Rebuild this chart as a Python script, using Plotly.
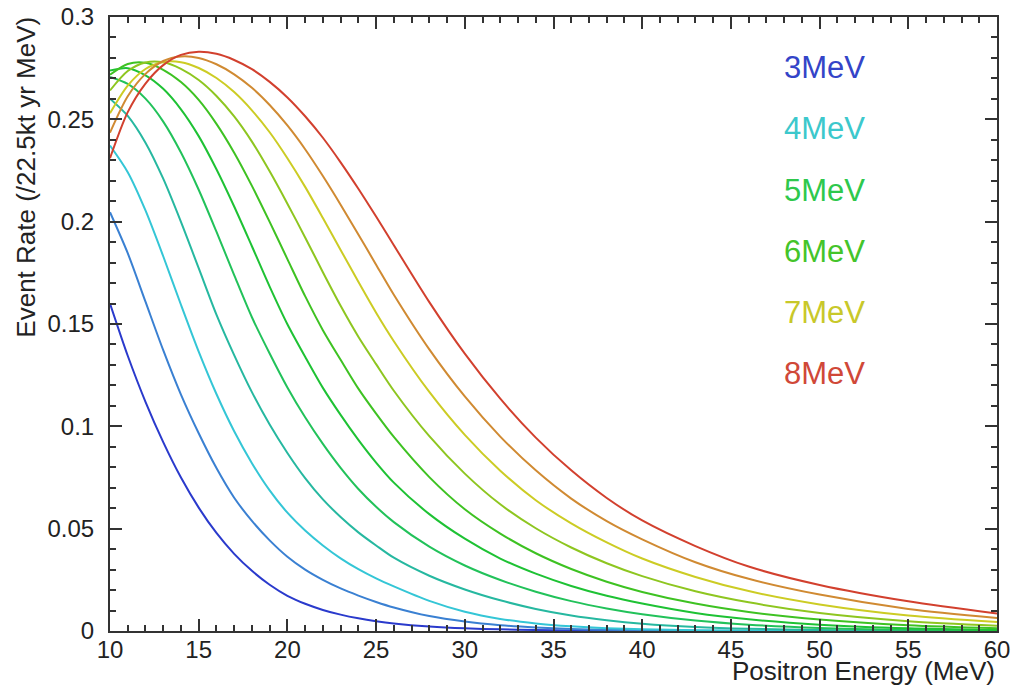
import plotly.graph_objects as go

# Positron energy grid (MeV)
positron_energy = [10, 11, 12, 13, 14, 15, 16, 17, 18, 19, 20, 21, 22, 23, 24, 25, 26,
                   28, 30, 32, 34, 36, 38, 40, 43, 46, 50, 55, 60]

# Event rate (/22.5kt yr MeV) for each neutrino temperature
rate_3p0 = [0.160, 0.1345, 0.112, 0.0923, 0.0750, 0.0603, 0.0479, 0.0377, 0.0294, 0.0226, 0.0172, 0.0133, 0.0103, 0.0080, 0.0062, 0.0048, 0.0037,
            0.0022, 0.0013, 0.0008, 0.00048, 0.0003, 0.00017, 0.0001, 0.00005, 0.00002, 0.00001, 0.0, 0.0]
rate_3p5 = [0.2046, 0.1846, 0.1609, 0.1372, 0.1155, 0.0966, 0.0796, 0.0651, 0.0538, 0.0443, 0.0363, 0.0300, 0.0250, 0.0208, 0.0173, 0.0142, 0.0115,
            0.0073, 0.0046, 0.0028, 0.0017, 0.0010, 0.0006, 0.00035, 0.00015, 0.00006, 0.00002, 0.00001, 0.0]
rate_4p0 = [0.2372, 0.2242, 0.2055, 0.1831, 0.1594, 0.1365, 0.1158, 0.0976, 0.0820, 0.0687, 0.0578, 0.0491, 0.0418, 0.0355, 0.0302, 0.0257, 0.0218,
            0.0147, 0.0094, 0.0059, 0.0037, 0.0023, 0.0014, 0.0009, 0.0004, 0.0002, 0.0001, 0.00003, 0.00001]
rate_4p5 = [0.2601, 0.2517, 0.2386, 0.2210, 0.1999, 0.1773, 0.1546, 0.1348, 0.1167, 0.1009, 0.0870, 0.0747, 0.0643, 0.0557, 0.0482, 0.0418, 0.0358,
            0.0270, 0.0203, 0.0150, 0.0108, 0.0076, 0.0053, 0.0036, 0.0020, 0.0011, 0.0005, 0.00018, 0.00006]
rate_5p0 = [0.2707, 0.2673, 0.2601, 0.2489, 0.2338, 0.2156, 0.1951, 0.1739, 0.1533, 0.1356, 0.1190, 0.1044, 0.0914, 0.0797, 0.0694, 0.0607, 0.0532,
            0.0412, 0.0320, 0.0249, 0.0192, 0.0146, 0.0110, 0.0082, 0.0051, 0.0031, 0.0015, 0.0006, 0.0002]
rate_5p5 = [0.2738, 0.2750, 0.2715, 0.2649, 0.2549, 0.2418, 0.2256, 0.2074, 0.1880, 0.1683, 0.1499, 0.1340, 0.1188, 0.1056, 0.0934, 0.0823, 0.0725,
            0.0571, 0.0451, 0.0354, 0.0280, 0.0220, 0.0172, 0.0134, 0.0088, 0.0057, 0.0031, 0.0013, 0.0005]
rate_6p0 = [0.2718, 0.2770, 0.2776, 0.2742, 0.2682, 0.2595, 0.2478, 0.2337, 0.2175, 0.1999, 0.1817, 0.1636, 0.1470, 0.1325, 0.1184, 0.1062, 0.0948,
            0.0752, 0.0595, 0.0476, 0.0380, 0.0303, 0.0241, 0.0191, 0.0134, 0.0093, 0.0056, 0.0028, 0.0013]
rate_6p5 = [0.2641, 0.2736, 0.2778, 0.2779, 0.2747, 0.2692, 0.2614, 0.2514, 0.2391, 0.2246, 0.2088, 0.1923, 0.1753, 0.1589, 0.1438, 0.1304, 0.1174,
            0.0952, 0.0769, 0.0619, 0.0502, 0.0408, 0.0331, 0.0268, 0.0194, 0.0140, 0.0088, 0.0048, 0.0026]
rate_7p0 = [0.2530, 0.2665, 0.2746, 0.2780, 0.2779, 0.2751, 0.2702, 0.2633, 0.2544, 0.2437, 0.2310, 0.2170, 0.2018, 0.1862, 0.1706, 0.1555, 0.1416,
            0.1168, 0.0958, 0.0783, 0.0639, 0.0526, 0.0433, 0.0354, 0.0264, 0.0195, 0.0130, 0.0076, 0.0044]
rate_7p5 = [0.2435, 0.2613, 0.2722, 0.2785, 0.2807, 0.2800, 0.2769, 0.2720, 0.2654, 0.2570, 0.2470, 0.2354, 0.2223, 0.2083, 0.1937, 0.1790, 0.1643,
            0.1376, 0.1146, 0.0950, 0.0785, 0.0647, 0.0537, 0.0448, 0.0336, 0.0255, 0.0178, 0.0108, 0.0064]
rate_8p0 = [0.2310, 0.2535, 0.2675, 0.2765, 0.2815, 0.2830, 0.2820, 0.2790, 0.2745, 0.2683, 0.2607, 0.2515, 0.2410, 0.2290, 0.2161, 0.2025, 0.1885,
            0.1607, 0.1355, 0.1135, 0.0945, 0.0785, 0.0650, 0.0540, 0.0415, 0.0315, 0.0225, 0.0145, 0.0085]

series_names = ["3MeV", "3.5MeV", "4MeV", "4.5MeV", "5MeV", "5.5MeV", "6MeV", "6.5MeV", "7MeV", "7.5MeV", "8MeV"]
series_values = [rate_3p0, rate_3p5, rate_4p0, rate_4p5, rate_5p0, rate_5p5,
                 rate_6p0, rate_6p5, rate_7p0, rate_7p5, rate_8p0]
series_colors = ["#2a3acc", "#3a80d2", "#34c6d6", "#26b8a0", "#22c25a", "#1ec234",
                 "#3ec222", "#8ec620", "#cccc24", "#d08a32", "#d2402e"]

label_texts = ["3MeV", "4MeV", "5MeV", "6MeV", "7MeV", "8MeV"]
label_colors = ["#3444c8", "#3cc8cc", "#2ec84c", "#44c42a", "#c8c82a", "#d04838"]

FONT = "Liberation Sans, Arial, Helvetica, sans-serif"

fig = go.Figure()
for name, vals, col in zip(series_names, series_values, series_colors):
    fig.add_trace(go.Scatter(
        x=positron_energy, y=vals, mode="lines", name=name,
        line=dict(color=col, width=2, shape="spline", smoothing=0.8),
        showlegend=False, hoverinfo="skip"))

# Temperature labels (right side of the plot)
label_y = [0.918, 0.819, 0.718, 0.618, 0.518, 0.420]
for txt, col, yy in zip(label_texts, label_colors, label_y):
    fig.add_annotation(text=txt, xref="paper", yref="paper", x=0.758, y=yy,
                       xanchor="left", yanchor="middle", showarrow=False,
                       font=dict(family=FONT, size=31, color=col))

# Axis titles, right/top aligned
fig.add_annotation(text="Positron Energy (MeV)", xref="paper", yref="paper",
                   x=1.0, y=-0.0655, xanchor="right", yanchor="middle",
                   showarrow=False, font=dict(family=FONT, size=26, color="#222"))
fig.add_annotation(text="Event Rate (/22.5kt yr MeV)", xref="paper", yref="paper",
                   x=-0.0947, y=1.003, xanchor="center", yanchor="top", textangle=-90,
                   showarrow=False, font=dict(family=FONT, size=26, color="#222"))

axis_common = dict(
    ticks="inside", ticklen=12, tickwidth=1.8, tickcolor="#333",
    showline=True, linecolor="#333", linewidth=2, mirror="ticks",
    showgrid=False, zeroline=False, automargin=False, ticklabeloverflow="allow",
    tickfont=dict(family=FONT, size=24, color="#222"),
)
fig.update_xaxes(range=[10, 60], tick0=10, dtick=5, ticklabelstandoff=-4,
                 minor=dict(dtick=1, ticks="inside", ticklen=6, tickwidth=1.5, tickcolor="#333"),
                 **axis_common)
fig.update_yaxes(range=[0, 0.3], tick0=0, dtick=0.05, ticklabelstandoff=9,
                 minor=dict(dtick=0.01, ticks="inside", ticklen=6, tickwidth=1.5, tickcolor="#333"),
                 **axis_common)

fig.update_layout(
    width=1015, height=685,
    margin=dict(l=110, r=18, t=17, b=54),
    paper_bgcolor="white", plot_bgcolor="white",
    font=dict(family=FONT),
)

# remove the default page margin so the figure fills the window exactly
fig.write_html("out.html", config={"displayModeBar": False},
               post_script="document.body.style.margin='0px';")
